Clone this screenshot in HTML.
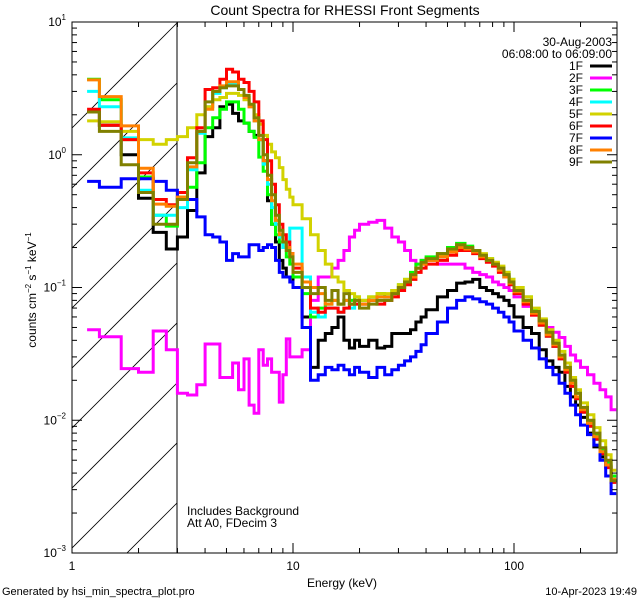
<!DOCTYPE html>
<html><head><meta charset="utf-8"><style>
html,body{margin:0;padding:0;background:#fff;}
svg{display:block;font-family:"Liberation Sans",sans-serif;}
</style></head><body>
<svg id="chart" width="640" height="600" viewBox="0 0 640 600">
<defs><clipPath id="plotclip"><rect x="72" y="22" width="545" height="531"/></clipPath></defs>
<rect x="0" y="0" width="640" height="600" fill="#fff"/>
<text x="345" y="15" font-size="14" text-anchor="middle">Count Spectra for RHESSI Front Segments</text>
<g id="hatch" clip-path="url(#plotclip)"></g>
<line x1="177" y1="22" x2="177" y2="553" stroke="#000" stroke-width="1"/>
<g id="series" clip-path="url(#plotclip)"></g>
<g id="axes"></g>
<rect x="72" y="22" width="545" height="531" fill="none" stroke="#000" stroke-width="1"/>
<text x="342" y="587" font-size="12" text-anchor="middle">Energy (keV)</text>
<text transform="translate(36,290) rotate(-90)" font-size="12" text-anchor="middle">counts cm<tspan font-size="8" dy="-5">−2</tspan><tspan dy="5"> s</tspan><tspan font-size="8" dy="-5">−1</tspan><tspan dy="5"> keV</tspan><tspan font-size="8" dy="-5">−1</tspan></text>
<text x="187" y="515" font-size="12">Includes Background</text>
<text x="187" y="527" font-size="12">Att A0, FDecim 3</text>
<text x="612" y="46" font-size="12" text-anchor="end">30-Aug-2003</text>
<text x="612" y="58" font-size="12" text-anchor="end">06:08:00 to 06:09:00</text>
<g id="legend"></g>
<text x="2" y="595" font-size="11">Generated by hsi_min_spectra_plot.pro</text>
<text x="637" y="595" font-size="11" text-anchor="end">10-Apr-2023 19:49</text>
</svg>
<script>
const edges = [1.17,1.33,1.67,2,2.33,2.67,3,3.33,3.67,4,4.33,4.67,5,5.33,5.67,6,6.33,6.67,7,7.33,7.67,8,8.33,8.67,9,9.33,9.67,10,
11,12,13,14,15,16,17,18,19,20,22,24,26,28,30,32,34,36,38,40,45,50,55,60,65,70,75,80,85,90,95,100,
110,120,130,140,150,160,170,180,190,200,215,230,245,260,275,290];
const seriesNames = ["1F","2F","3F","4F","5F","6F","7F","8F","9F"];
const seriesColors = ["#000000","#ff00ff","#00ff00","#00ffff","#d2d200","#ff0000","#0000ff","#ff8000","#808000"];
const s1F = [2.1,1.67,1.0,0.47,0.26,0.195,0.24,0.38,0.73,1.37,1.6,2.3,2.4,2.05,1.8,1.73,1.5,1.4,1.3,0.9,0.45,0.3,0.22,0.16,0.14,0.12,0.12,
0.1,0.06,0.025,0.04,0.045,0.05,0.06,0.04,0.035,0.04,0.036,0.04,0.035,0.036,0.045,0.045,0.045,0.048,0.055,0.06,
0.068,0.085,0.095,0.108,0.11,0.115,0.1,0.095,0.09,0.085,0.08,0.073,0.06,0.05,0.045,0.034,0.028,0.025,0.023,0.018,0.015,0.013,
0.0105,0.008,0.0063,0.0053,0.0045,0.0035];
const s2F = [0.048,0.0425,0.0245,0.023,0.047,0.034,0.016,0.0155,0.0185,0.0375,0.0375,0.021,0.021,0.027,0.017,0.029,0.013,0.0113,0.034,0.026,0.029,0.023,0.023,0.0137,0.022,0.041,0.03,
0.03,0.034,0.08,0.12,0.12,0.14,0.16,0.19,0.24,0.27,0.3,0.31,0.32,0.28,0.24,0.22,0.19,0.16,0.15,0.16,
0.16,0.15,0.15,0.15,0.14,0.13,0.125,0.12,0.11,0.105,0.1,0.095,0.085,0.072,0.062,0.055,0.05,0.046,0.042,0.036,0.031,0.028,
0.025,0.022,0.019,0.017,0.015,0.012];
const s3F = [3.7,2.6,1.3,0.68,0.35,0.29,0.48,0.57,0.87,1.6,1.9,2.2,2.5,2.5,2.2,1.73,1.5,1.35,0.96,0.75,0.5,0.3,0.25,0.22,0.2,0.17,0.15,
0.12,0.09,0.06,0.07,0.075,0.08,0.075,0.08,0.08,0.085,0.08,0.085,0.09,0.085,0.095,0.105,0.115,0.13,0.15,0.16,
0.17,0.18,0.2,0.215,0.205,0.19,0.175,0.165,0.15,0.14,0.13,0.115,0.1,0.085,0.068,0.057,0.047,0.039,0.031,0.025,0.02,0.016,
0.012,0.0098,0.0078,0.006,0.0048,0.0038];
const s4F = [3.0,2.3,1.34,0.54,0.35,0.35,0.4,0.77,1.45,2.3,2.9,3.2,3.4,3.4,3.1,2.7,2.3,1.8,1.3,0.85,0.6,0.4,0.3,0.24,0.2,0.22,0.28,
0.28,0.12,0.065,0.06,0.07,0.07,0.065,0.07,0.07,0.075,0.075,0.08,0.085,0.085,0.09,0.1,0.11,0.12,0.14,0.15,
0.16,0.17,0.19,0.2,0.195,0.185,0.17,0.16,0.15,0.135,0.12,0.105,0.09,0.076,0.063,0.052,0.043,0.036,0.029,0.023,0.018,0.0145,
0.0115,0.009,0.0072,0.0056,0.0045,0.0035];
const s5F = [1.8,1.77,1.5,1.3,1.2,1.3,1.37,1.6,2.0,2.3,2.6,2.7,2.9,2.9,2.8,2.6,2.3,2.0,1.7,1.4,1.2,1.05,0.95,0.8,0.65,0.55,0.48,
0.42,0.33,0.25,0.19,0.15,0.12,0.11,0.095,0.09,0.085,0.08,0.085,0.09,0.09,0.095,0.105,0.115,0.125,0.14,0.15,
0.16,0.175,0.19,0.2,0.2,0.19,0.18,0.165,0.155,0.145,0.13,0.115,0.1,0.085,0.07,0.058,0.048,0.04,0.033,0.027,0.021,0.017,
0.0135,0.011,0.0088,0.007,0.0055,0.0042];
const s6F = [2.2,1.67,1.3,0.73,0.46,0.42,0.52,0.95,1.6,3.1,3.2,3.7,4.4,4.2,3.7,3.5,3.0,2.5,1.8,1.3,0.9,0.6,0.42,0.3,0.25,0.22,0.18,
0.14,0.11,0.07,0.065,0.07,0.07,0.065,0.07,0.075,0.075,0.075,0.08,0.075,0.08,0.085,0.095,0.105,0.115,0.13,0.14,
0.15,0.16,0.175,0.19,0.19,0.18,0.165,0.155,0.145,0.13,0.12,0.105,0.09,0.075,0.062,0.052,0.043,0.036,0.029,0.023,0.018,0.0145,
0.0115,0.009,0.0072,0.0056,0.0044,0.0034];
const s7F = [0.63,0.57,0.66,0.66,0.63,0.54,0.46,0.46,0.34,0.25,0.24,0.22,0.16,0.18,0.17,0.17,0.21,0.21,0.19,0.2,0.21,0.2,0.16,0.13,0.12,0.12,0.11,
0.1,0.05,0.02,0.022,0.025,0.024,0.026,0.024,0.022,0.025,0.023,0.021,0.025,0.022,0.024,0.026,0.028,0.03,0.033,0.037,
0.045,0.055,0.07,0.08,0.085,0.082,0.078,0.075,0.07,0.065,0.06,0.055,0.047,0.04,0.035,0.029,0.025,0.022,0.019,0.016,0.013,0.011,
0.0092,0.0078,0.0065,0.005,0.0038,0.0028];
const s8F = [3.66,2.74,1.65,0.79,0.425,0.41,0.48,0.81,1.5,2.2,3.0,3.3,3.55,3.55,3.1,2.7,2.3,1.8,1.3,0.9,0.65,0.45,0.32,0.25,0.22,0.2,0.18,
0.15,0.11,0.1,0.09,0.075,0.08,0.075,0.08,0.075,0.08,0.075,0.08,0.085,0.085,0.09,0.1,0.11,0.12,0.14,0.15,
0.16,0.17,0.185,0.2,0.195,0.185,0.17,0.16,0.15,0.135,0.12,0.108,0.093,0.078,0.064,0.054,0.044,0.037,0.03,0.024,0.019,0.015,
0.012,0.0095,0.0075,0.0058,0.0046,0.0036];
const s9F = [2.1,1.5,0.84,0.52,0.3,0.3,0.46,0.87,1.5,2.5,3.0,3.2,3.3,3.3,3.1,2.8,2.4,1.9,1.4,1.0,0.7,0.5,0.35,0.27,0.22,0.19,0.17,
0.13,0.1,0.09,0.1,0.08,0.095,0.075,0.09,0.075,0.08,0.07,0.075,0.08,0.08,0.09,0.1,0.11,0.125,0.14,0.155,
0.165,0.18,0.195,0.21,0.2,0.19,0.175,0.16,0.15,0.14,0.125,0.11,0.095,0.08,0.066,0.056,0.046,0.038,0.031,0.025,0.02,0.016,
0.0125,0.01,0.008,0.0062,0.005,0.0035];
const xTickLabels = ["1","10","100"];
const yTickExps = ["1","0","−1","−2","−3"];

const NS = "http://www.w3.org/2000/svg";
const X0 = 72, X1 = 617, XDEC = 221;
const Y0 = 22, Y1 = 553, YDEC = 132.75;
function xs(e){ return X0 + Math.log10(e) * XDEC; }
function ys(v){ return Y0 + (1 - Math.log10(v)) * YDEC; }
function mk(tag, attrs, parent){ const el = document.createElementNS(NS, tag); for (const k in attrs) el.setAttribute(k, attrs[k]); parent.appendChild(el); return el; }

// hatch
const hatch = document.getElementById('hatch');
for (let c = -400; c < 800; c += 60) {
  const ln = mk('line', {x1: c, y1: 600, x2: c + 600, y2: 0, stroke: '#000', 'stroke-width': 0.8}, hatch);
  
  
}
const hatchCover = mk('rect', {x: 177.5, y: 0, width: 500, height: 600, fill: '#fff'}, hatch);



// series
const allSeries = [s1F, s2F, s3F, s4F, s5F, s6F, s7F, s8F, s9F];
const sg = document.getElementById('series');
allSeries.forEach((vals, si) => {
  let d = '';
  for (let i = 0; i < vals.length; i++) {
    const xa = xs(edges[i]), xb = xs(edges[i + 1]), y = ys(vals[i]);
    d += (i === 0 ? 'M' : 'L') + xa.toFixed(1) + ',' + y.toFixed(1) + 'L' + xb.toFixed(1) + ',' + y.toFixed(1);
  }
  const p = mk('path', {d: d, fill: 'none', stroke: seriesColors[si], 'stroke-width': 3, 'stroke-linejoin': 'miter'}, sg);
  
  
});

// axes ticks
const ax = document.getElementById('axes');
for (let dec = 0; dec < 3; dec++) {
  for (let m = 1; m <= 9; m++) {
    const e = m * Math.pow(10, dec);
    const x = xs(e);
    if (x > X1 + 0.5) continue;
    const len = m === 1 ? 10 : 5;
    const t1 = mk('line', {x1: x, y1: Y1, x2: x, y2: Y1 - len, stroke: '#000'}, ax);
    
    
    const t2 = mk('line', {x1: x, y1: Y0, x2: x, y2: Y0 + len, stroke: '#000'}, ax);
    
    
  }
}
xTickLabels.forEach((lab, i) => {
  const t = mk('text', {x: xs(Math.pow(10, i)), y: 570, 'font-size': 12, 'text-anchor': 'middle'}, ax);
  t.textContent = lab;
  
  
});
for (let dec = -3; dec < 1; dec++) {
  for (let m = 1; m <= 9; m++) {
    const y = ys(m * Math.pow(10, dec));
    const len = m === 1 ? 10 : 5;
    const t1 = mk('line', {x1: X0, y1: y, x2: X0 + len, y2: y, stroke: '#000'}, ax);
    
    
    const t2 = mk('line', {x1: X1, y1: y, x2: X1 - len, y2: y, stroke: '#000'}, ax);
    
    
  }
}
yTickExps.forEach((ex, i) => {
  const y = ys(Math.pow(10, 1 - i));
  const t = mk('text', {x: 66, y: y + 4, 'font-size': 12, 'text-anchor': 'end'}, ax);
  t.innerHTML = '10<tspan font-size="8" dy="-6">' + ex + '</tspan>';
  
  
});

// legend
const lg = document.getElementById('legend');
seriesNames.forEach((nm, i) => {
  const y = 66 + i * 12;
  const t = mk('text', {x: 583, y: y + 4, 'font-size': 12, 'text-anchor': 'end'}, lg);
  t.textContent = nm;
  
  
  const l = mk('line', {x1: 590, y1: y, x2: 612, y2: y, stroke: seriesColors[i], 'stroke-width': 3}, lg);
  
  
});
</script>
</body></html>
